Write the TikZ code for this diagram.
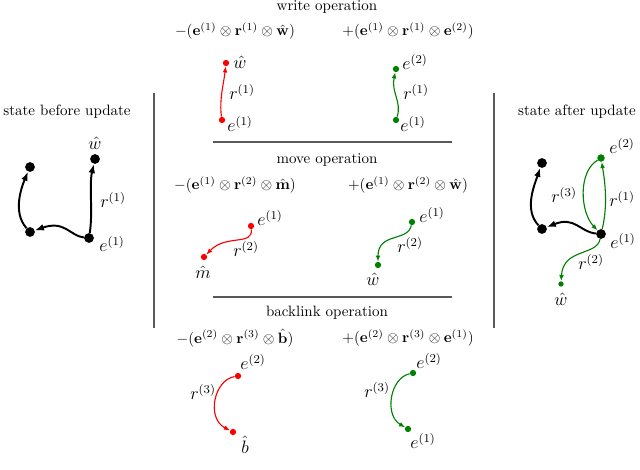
\documentclass[tikz,border=0pt]{standalone}
\usepackage{amsmath,amssymb}
\usetikzlibrary{arrows.meta}
\definecolor{dgreen}{RGB}{0,128,0}
\begin{document}
\begin{tikzpicture}[x=0.6667pt,y=-0.6667pt,
  bdot/.style={circle,fill=black,inner sep=0pt,minimum size=6.5pt},
  rdot/.style={circle,fill=red,inner sep=0pt,minimum size=4.2pt},
  gdot/.style={circle,fill=dgreen,inner sep=0pt,minimum size=4.2pt},
  gsdot/.style={circle,fill=dgreen,inner sep=0pt,minimum size=3.6pt},
  lab/.style={inner sep=0pt,font=\large},
  ttl/.style={inner sep=0pt},
  bedge/.style={line width=1.3pt,-{Latex[length=6pt,width=4.5pt]}},
  redge/.style={red,line width=0.75pt,-{Latex[length=4pt,width=3.2pt]}},
  gedge/.style={dgreen,line width=0.75pt,-{Latex[length=4pt,width=3.2pt]}},
  rule/.style={gray!70!black,line width=0.8pt}]
\useasboundingbox (0,0) rectangle (640,470);

% separators
\coordinate (vl1) at (154,93); \coordinate (vl2) at (154,328);
\coordinate (vr1) at (494,93); \coordinate (vr2) at (494,328);
\coordinate (h1a) at (213,142); \coordinate (h1b) at (452,142);
\coordinate (h2a) at (213,297); \coordinate (h2b) at (452,297);
\draw[rule] (vl1) -- (vl2);
\draw[rule] (vr1) -- (vr2);
\draw[rule] (h1a) -- (h1b);
\draw[rule] (h2a) -- (h2b);

% left panel
\node[ttl] (tbefore) at (67,112) {state before update};
\node[bdot] (Ltl) at (30,167) {};
\node[bdot] (Lw) at (95,159) {};
\node[bdot] (Lbl) at (30,232) {};
\node[bdot] (Le1) at (89,238) {};
\node[lab] (Lwl) at (95,143) {$\hat{w}$};
\node[lab] (Lrl) at (113,200) {$r^{(1)}$};
\node[lab] (Lel) at (112,244) {$e^{(1)}$};
\draw[bedge] (Le1) .. controls (93,212) and (89,185) .. (Lw);
\draw[bedge] (Le1) .. controls (70,236) and (65,220) .. (Lbl);
\draw[bedge] (Lbl) .. controls (12,212) and (22,186) .. (Ltl);

% write operation
\node[ttl] (twrite) at (327,7) {write operation};
\node[ttl] (fw1) at (235,31) {$-(\mathbf{e}^{(1)}\otimes\mathbf{r}^{(1)}\otimes\hat{\mathbf{w}})$};
\node[ttl] (fw2) at (408,31) {$+(\mathbf{e}^{(1)}\otimes\mathbf{r}^{(1)}\otimes\mathbf{e}^{(2)})$};
\node[rdot] (Ww) at (226,63) {};
\node[rdot] (We1) at (222,120) {};
\node[lab] (Wwl) at (240,62) {$\hat{w}$};
\node[lab] (Wrl) at (242,92) {$r^{(1)}$};
\node[lab] (Wel) at (240,124) {$e^{(1)}$};
\draw[redge] (We1) .. controls (219,100) and (224,82) .. (Ww);
\node[gdot] (Gw2) at (396,69) {};
\node[gdot] (Ge1) at (396,120) {};
\node[lab] (Gw2l) at (415,62) {$e^{(2)}$};
\node[lab] (Grl) at (416,92) {$r^{(1)}$};
\node[lab] (Gel) at (413,124) {$e^{(1)}$};
\draw[gedge] (Ge1) .. controls (402,102) and (391,92) .. (Gw2);

% move operation
\node[ttl] (tmove) at (327,160) {move operation};
\node[ttl] (fm1) at (235,185) {$-(\mathbf{e}^{(1)}\otimes\mathbf{r}^{(2)}\otimes\hat{\mathbf{m}})$};
\node[ttl] (fm2) at (408,185) {$+(\mathbf{e}^{(1)}\otimes\mathbf{r}^{(2)}\otimes\hat{\mathbf{w}})$};
\node[rdot] (Me1) at (251,226) {};
\node[rdot] (Mm) at (204,257) {};
\node[lab] (Mel) at (270,218) {$e^{(1)}$};
\node[lab] (Mrl) at (246,249) {$r^{(2)}$};
\node[lab] (Mml) at (203,272) {$\hat{m}$};
\draw[redge] (Me1) .. controls (253,246) and (226,234) .. (Mm);
\node[gdot] (Ne1) at (412,222) {};
\node[gdot] (Nw) at (378,265) {};
\node[lab] (Nel) at (432,215) {$e^{(1)}$};
\node[lab] (Nrl) at (410,245) {$r^{(2)}$};
\node[lab] (Nwl) at (373,279) {$\hat{w}$};
\draw[gedge] (Ne1) .. controls (408,242) and (378,232) .. (Nw);

% backlink operation
\node[ttl] (tback) at (327,313) {backlink operation};
\node[ttl] (fb1) at (235,338) {$-(\mathbf{e}^{(2)}\otimes\mathbf{r}^{(3)}\otimes\hat{\mathbf{b}})$};
\node[ttl] (fb2) at (408,338) {$+(\mathbf{e}^{(2)}\otimes\mathbf{r}^{(3)}\otimes\mathbf{e}^{(1)})$};
\node[rdot] (Be2) at (238,376) {};
\node[rdot] (Bb) at (233,432) {};
\node[lab] (Bel) at (253,362) {$e^{(2)}$};
\node[lab] (Brl) at (203,392) {$r^{(3)}$};
\node[lab] (Bbl) at (245,445) {$\hat{b}$};
\draw[redge] (Be2) .. controls (214,380) and (206,418) .. (Bb);
\node[gdot] (Ce2) at (413,373) {};
\node[gdot] (Ce1) at (408,429) {};
\node[lab] (Cel2) at (429,361) {$e^{(2)}$};
\node[lab] (Crl) at (377,390) {$r^{(3)}$};
\node[lab] (Cel1) at (423,441) {$e^{(1)}$};
\draw[gedge] (Ce2) .. controls (390,378) and (384,415) .. (Ce1);

% right panel
\node[ttl] (tafter) at (577,112) {state after update};
\node[bdot] (Rtl) at (542,163) {};
\node[bdot] (Rbl) at (542,229) {};
\node[bdot] (Re1) at (601,234) {};
\node[gdot,minimum size=5pt] (Re2) at (601,158) {};
\node[gsdot] (Rw) at (561,284) {};
\node[lab] (Re2l) at (622,146) {$e^{(2)}$};
\node[lab] (Rr3l) at (564,195) {$r^{(3)}$};
\node[lab] (Rr1l) at (622,199) {$r^{(1)}$};
\node[lab] (Re1l) at (623,241) {$e^{(1)}$};
\node[lab] (Rr2l) at (591,262) {$r^{(2)}$};
\node[lab] (Rwl) at (561,299) {$\hat{w}$};
\draw[bedge] (Re1) .. controls (580,232) and (575,216) .. (Rbl);
\draw[bedge] (Rbl) .. controls (524,210) and (534,186) .. (Rtl);
\draw[gedge] (Re1) .. controls (608,205) and (605,182) .. (Re2);
\draw[gedge] (Re2) .. controls (578,172) and (580,212) .. (Re1);
\draw[gedge] (Re1) .. controls (597,256) and (563,248) .. (Rw);
\end{tikzpicture}
\end{document}
